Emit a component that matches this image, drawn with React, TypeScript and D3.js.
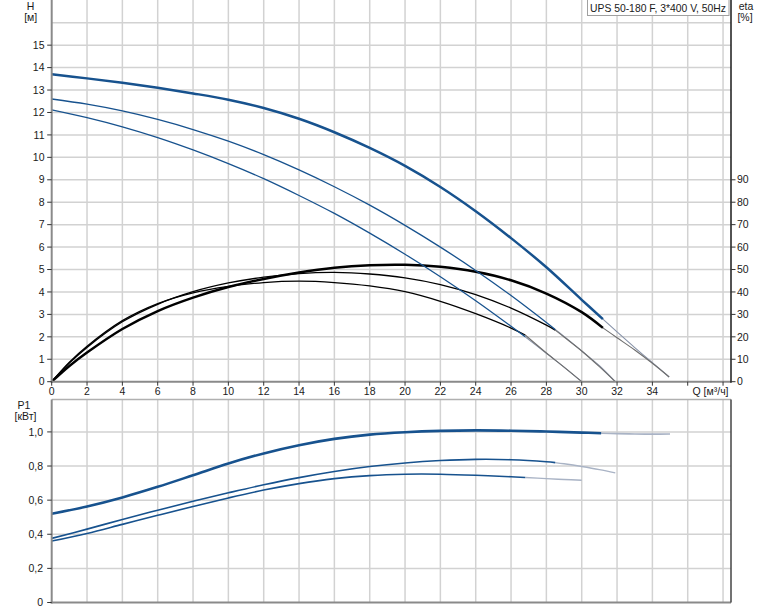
import React from 'react';
import * as d3 from 'd3';

// ---------- data ----------
const qTickLabels = [0, 2, 4, 6, 8, 10, 12, 14, 16, 18, 20, 22, 24, 26, 28, 30, 32, 34];
const qGrid = [2, 4, 6, 8, 10, 12, 14, 16, 18, 20, 22, 24, 26, 28, 30, 32, 34, 36, 38];
const hTicks = [0, 1, 2, 3, 4, 5, 6, 7, 8, 9, 10, 11, 12, 13, 14, 15];
const hGrid = [1, 2, 3, 4, 5, 6, 7, 8, 9, 10, 11, 12, 13, 14, 15, 16];
const etaTicks = [0, 10, 20, 30, 40, 50, 60, 70, 80, 90];
const pTicks = [0, 0.2, 0.4, 0.6, 0.8, 1.0];
const pTickLabels = ['0', '0,2', '0,4', '0,6', '0,8', '1,0'];

// H curves [m]
const qH1 = [0, 2, 4, 6, 8, 10, 12, 14, 16, 18, 20, 22, 24, 26, 28, 30, 31.2];
const h1 = [13.7, 13.52, 13.32, 13.1, 12.85, 12.57, 12.2, 11.72, 11.12, 10.42, 9.62, 8.68, 7.6, 6.4, 5.1, 3.65, 2.79];
const qH1x = [31.2, 32, 33, 34, 34.95];
const h1x = [2.79, 2.22, 1.52, 0.85, 0.21];

const qH2 = [0, 2, 4, 6, 8, 10, 12, 14, 16, 18, 20, 22, 24, 26, 28, 28.5];
const h2 = [12.6, 12.37, 12.07, 11.69, 11.24, 10.72, 10.12, 9.44, 8.69, 7.87, 6.97, 6.0, 4.96, 3.84, 2.64, 2.33];
const qH2x = [28.5, 29, 30, 31, 31.9];
const h2x = [2.33, 2.02, 1.37, 0.71, 0];

const qH3 = [0, 2, 4, 6, 8, 10, 12, 14, 16, 18, 20, 22, 24, 26, 26.8];
const h3 = [12.12, 11.77, 11.36, 10.88, 10.33, 9.72, 9.05, 8.3, 7.5, 6.62, 5.68, 4.68, 3.61, 2.47, 2.0];
const qH3x = [26.8, 28, 29, 30];
const h3x = [2.0, 1.27, 0.65, 0];

// eta curves [%]
const qE1 = [0, 1, 2, 4, 6, 8, 10, 12, 14, 16, 18, 20, 22, 24, 26, 28, 30, 31.2];
const e1 = [0, 7, 13, 23.5, 31.5, 37.5, 42.2, 45.8, 48.7, 50.8, 51.9, 52.1, 51.2, 49.0, 45.2, 39.3, 31.0, 24.0];
const qE1x = [31.2, 32, 33, 34, 34.95];
const e1x = [24.0, 19.6, 14.1, 8.2, 2.1];

const qE2 = [0, 1, 2, 4, 6, 8, 10, 12, 14, 16, 18, 20, 22, 24, 26, 28, 28.5];
const e2 = [0, 8.3, 15.3, 26.7, 34.5, 40.1, 44.0, 46.6, 48.2, 48.7, 48.0, 46.3, 43.3, 38.8, 32.8, 25.2, 23.0];
const qE2x = [28.5, 29, 30, 31, 31.9];
const e2x = [23.0, 19.9, 13.7, 6.7, 0];

const qE3 = [0, 1, 2, 4, 6, 8, 10, 12, 14, 16, 18, 20, 22, 24, 26, 26.8];
const e3 = [0, 8.7, 15.8, 27.2, 34.8, 39.6, 42.5, 44.2, 44.8, 44.2, 42.7, 40.1, 35.8, 30.3, 23.9, 20.8];
const qE3x = [26.8, 28, 29, 30];
const e3x = [20.8, 12.8, 6.5, 0];

// P1 curves [kW]
const qP1 = [0, 2, 4, 6, 8, 10, 12, 14, 16, 18, 20, 22, 24, 26, 28, 30, 31.1];
const p1 = [0.52, 0.563, 0.616, 0.678, 0.746, 0.815, 0.874, 0.922, 0.959, 0.984, 0.998, 1.006, 1.009, 1.007, 1.002, 0.996, 0.992];
const qP1x = [31.1, 32, 33, 34, 35];
const p1x = [0.992, 0.99, 0.988, 0.987, 0.988];

const qP2 = [0, 2, 4, 6, 8, 10, 12, 14, 16, 18, 20, 22, 24, 26, 28, 28.5];
const p2 = [0.376, 0.43, 0.487, 0.541, 0.594, 0.643, 0.69, 0.732, 0.768, 0.797, 0.818, 0.832, 0.839, 0.837, 0.825, 0.82];
const qP2x = [28.5, 29, 30, 31, 31.9];
const p2x = [0.82, 0.813, 0.797, 0.779, 0.76];

const qP3 = [0, 2, 4, 6, 8, 10, 12, 14, 16, 18, 20, 22, 24, 26, 26.8];
const p3 = [0.36, 0.405, 0.458, 0.511, 0.563, 0.613, 0.659, 0.697, 0.726, 0.744, 0.752, 0.752, 0.746, 0.737, 0.733];
const qP3x = [26.8, 28, 29, 30];
const p3x = [0.733, 0.726, 0.721, 0.717];

const legendText = 'UPS 50-180 F, 3*400 V, 50Hz';

export default function App() {
  const W = 774, Hh = 611;
  const xL = 51.7, xR = 731;
  const x = d3.scaleLinear().domain([0, 38.45]).range([xL, xR]);
  const yH = d3.scaleLinear().domain([0, 17]).range([381.7, 0.3]);
  const yE = d3.scaleLinear().domain([0, 170]).range([381.7, 0.3]);
  const yP = d3.scaleLinear().domain([0, 1.19]).range([602.5, 399.5]);

  const mk = (qs: number[], vs: number[], ys: d3.ScaleLinear<number, number>) =>
    d3.line<number>().x((_, i) => x(qs[i])).y((v) => ys(v)).curve(d3.curveCatmullRom.alpha(0.5))(vs) || '';

  const blue = '#17528e';
  const blueExt = '#8792a8';
  const blackExt = '#6e6e6e';
  const pExt = '#a9b3c5';
  const grid = '#d2d2d2';
  const axisGray = '#8a8a8a';
  const font = "'Liberation Sans', Arial, sans-serif";
  const txt = '#1a1a1a';
  const fs = 10.5;

  return (
    <svg width={W} height={Hh} style={{ position: 'absolute', left: 0, top: 0, background: '#fff' }} fontFamily={font}>
      <rect x={0} y={0} width={W} height={Hh} fill="#fff" />
      {/* grid top */}
      {qGrid.map((q) => (
        <line key={'vt' + q} x1={x(q)} x2={x(q)} y1={0} y2={yH(0)} stroke={grid} strokeWidth={1.5} />
      ))}
      {hGrid.map((h) => (
        <line key={'ht' + h} x1={xL} x2={xR} y1={yH(h)} y2={yH(h)} stroke={grid} strokeWidth={1.5} />
      ))}
      {/* grid bottom */}
      {qGrid.map((q) => (
        <line key={'vb' + q} x1={x(q)} x2={x(q)} y1={yP(1.19)} y2={yP(0)} stroke={grid} strokeWidth={1.5} />
      ))}
      {pTicks.slice(1).map((p) => (
        <line key={'hb' + p} x1={xL} x2={xR} y1={yP(p)} y2={yP(p)} stroke={grid} strokeWidth={1.5} />
      ))}

      {/* extensions */}
      <g fill="none">
        <path d={mk(qH1x, h1x, yH)} stroke={blueExt} strokeWidth={1.1} />
        <path d={mk(qH2x, h2x, yH)} stroke={blueExt} strokeWidth={1.1} />
        <path d={mk(qH3x, h3x, yH)} stroke={blueExt} strokeWidth={1.1} />
        <path d={mk(qE1x, e1x, yE)} stroke={blackExt} strokeWidth={1.1} />
        <path d={mk(qE2x, e2x, yE)} stroke={blackExt} strokeWidth={1.1} />
        <path d={mk(qE3x, e3x, yE)} stroke={blackExt} strokeWidth={1.1} />
        <path d={mk(qP1x, p1x, yP)} stroke={pExt} strokeWidth={1.6} />
        <path d={mk(qP2x, p2x, yP)} stroke={pExt} strokeWidth={1.4} />
        <path d={mk(qP3x, p3x, yP)} stroke={pExt} strokeWidth={1.4} />
      </g>
      {/* main curves */}
      <g fill="none" strokeLinejoin="round">
        <path d={mk(qE3, e3, yE)} stroke="#000" strokeWidth={1.3} />
        <path d={mk(qE2, e2, yE)} stroke="#000" strokeWidth={1.3} />
        <path d={mk(qE1, e1, yE)} stroke="#000" strokeWidth={2.5} />
        <path d={mk(qH3, h3, yH)} stroke={blue} strokeWidth={1.3} />
        <path d={mk(qH2, h2, yH)} stroke={blue} strokeWidth={1.3} />
        <path d={mk(qH1, h1, yH)} stroke={blue} strokeWidth={2.5} />
        <path d={mk(qP3, p3, yP)} stroke={blue} strokeWidth={1.6} />
        <path d={mk(qP2, p2, yP)} stroke={blue} strokeWidth={1.6} />
        <path d={mk(qP1, p1, yP)} stroke={blue} strokeWidth={2.6} />
      </g>

      {/* top chart axes */}
      <line x1={xL} x2={xL} y1={0} y2={yH(0) + 1} stroke={axisGray} strokeWidth={2} />
      <line x1={xL - 1} x2={xR} y1={yH(0)} y2={yH(0)} stroke={axisGray} strokeWidth={2} />
      <line x1={xR} x2={xR} y1={0} y2={yH(0) + 1} stroke="#1a1a1a" strokeWidth={1.5} />
      {hTicks.map((h) => (
        <g key={'yt' + h}>
          <line x1={xL - 4.5} x2={xL} y1={yH(h)} y2={yH(h)} stroke="#333" strokeWidth={1} />
          <text x={44.5} y={yH(h)} dy="0.35em" textAnchor="end" fontSize={fs} fill={txt}>{h}</text>
        </g>
      ))}
      {etaTicks.map((e) => (
        <g key={'et' + e}>
          <line x1={xR} x2={xR + 4.5} y1={yE(e)} y2={yE(e)} stroke="#333" strokeWidth={1} />
          <text x={737} y={yE(e)} dy="0.35em" textAnchor="start" fontSize={fs} fill={txt}>{e}</text>
        </g>
      ))}
      {qGrid.concat([0]).map((q) => (
        <line key={'xt' + q} x1={x(q)} x2={x(q)} y1={yH(0)} y2={yH(0) + 4} stroke="#333" strokeWidth={1} />
      ))}
      {qTickLabels.map((q) => (
        <text key={'xl' + q} x={x(q)} y={395} textAnchor="middle" fontSize={fs} fill={txt}>{q}</text>
      ))}
      <text x={692.5} y={395} fontSize={fs} fill={txt}>Q [м³/ч]</text>
      <text x={30.5} y={10} textAnchor="middle" fontSize={fs} fill={txt}>H</text>
      <text x={30.7} y={21} textAnchor="middle" fontSize={fs} fill={txt}>[м]</text>
      <text x={746} y={10} textAnchor="middle" fontSize={fs} fill={txt}>eta</text>
      <text x={745} y={21} textAnchor="middle" fontSize={fs} fill={txt}>[%]</text>

      {/* legend */}
      <rect x={587.5} y={-1} width={141.5} height={16.5} fill="#fff" stroke="#a0a0a0" strokeWidth={1} />
      <text x={590} y={11.5} fontSize={fs} fill={txt} textLength={136} lengthAdjust="spacingAndGlyphs">{legendText}</text>

      {/* bottom chart axes */}
      <line x1={xL} x2={xR} y1={yP(1.19)} y2={yP(1.19)} stroke="#b0b0b0" strokeWidth={1.5} />
      <line x1={xL} x2={xL} y1={yP(1.19)} y2={yP(0) + 1} stroke={axisGray} strokeWidth={2} />
      <line x1={xL - 1} x2={xR} y1={yP(0)} y2={yP(0)} stroke={axisGray} strokeWidth={2} />
      <line x1={xR} x2={xR} y1={yP(1.19)} y2={yP(0)} stroke="#444" strokeWidth={1.5} />
      {pTicks.map((p, i) => (
        <g key={'pt' + p}>
          <line x1={xL - 4.5} x2={xL} y1={yP(p)} y2={yP(p)} stroke="#333" strokeWidth={1} />
          <text x={43} y={yP(p)} dy="0.35em" textAnchor="end" fontSize={fs} fill={txt}>{pTickLabels[i]}</text>
        </g>
      ))}
      <text x={24} y={409} textAnchor="middle" fontSize={fs} fill={txt}>P1</text>
      <text x={25.5} y={420} textAnchor="middle" fontSize={fs} fill={txt}>[кВт]</text>
    </svg>
  );
}
